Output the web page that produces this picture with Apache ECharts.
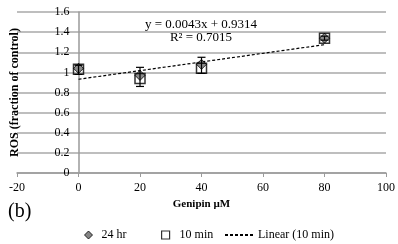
<!DOCTYPE html>
<html><head><meta charset="utf-8">
<script src="https://cdn.jsdelivr.net/npm/echarts@6/dist/echarts.min.js"></script>
<style>html,body{margin:0;padding:0;background:#fff}#c{width:398px;height:244px}</style>
</head><body><div id="c"></div>
<script>
var doses = [0, 20, 40, 80];
var hr24 = [1.04, 0.97, 1.08, 1.34];
var min10 = [1.03, 0.94, 1.04, 1.34];
var errLow = [0.98, 0.86, 0.99, 1.32];
var errHigh = [1.07, 1.05, 1.15, 1.36];
var trendX = [0, 80];
var trendY = [0.9314, 1.2754];
var xTicks = [-20, 0, 20, 40, 60, 80, 100];
var yTicks = [0, 0.2, 0.4, 0.6, 0.8, 1, 1.2, 1.4, 1.6];
var equationText = 'y = 0.0043x + 0.9314';
var r2Text = 'R\u00b2 = 0.7015';

var F = '"Liberation Serif", "DejaVu Serif", serif';
var chart = echarts.init(document.getElementById('c'));
function pairs(xs, ys){ return xs.map(function(x,i){return [x, ys[i]];}); }
function legendBase(extra){
  return Object.assign({bottom: -2, itemWidth: 8, itemHeight: 8, itemGap: 0,
    textStyle:{fontFamily:F, fontSize:12, color:'#000'}}, extra);
}
var gridLeft = 17, gridRight = 12;
var plotW = 398 - gridLeft - gridRight;
var zeroOffset = -plotW * (0 - xTicks[0]) / (xTicks[xTicks.length-1] - xTicks[0]);
chart.setOption({
  animation: false,
  grid: {left: gridLeft, right: gridRight, top: 12, bottom: 71, containLabel: false, outerBoundsMode: 'none'},
  xAxis: {type:'value', min: xTicks[0], max: xTicks[xTicks.length-1], interval: 20,
    name: 'Genipin \u00b5M', nameLocation: 'middle', nameGap: 26,
    nameTextStyle: {fontFamily: F, fontWeight: 'bold', fontSize: 11, color: '#000'},
    axisLine: {onZero: false, lineStyle: {color: '#9a9a9a', width: 1.5}},
    axisTick: {show: true, length: 4, lineStyle: {color: '#9a9a9a'}},
    axisLabel: {fontFamily: F, fontSize: 12, color: '#000', margin: 9},
    splitLine: {show: false}},
  yAxis: {type:'value', min: yTicks[0], max: yTicks[yTicks.length-1], interval: 0.2,
    offset: zeroOffset,
    name: 'ROS (fraction of control)', nameLocation: 'middle', nameGap: 58,
    nameTextStyle: {fontFamily: F, fontWeight: 'bold', fontSize: 12, color: '#000'},
    axisLine: {onZero: false, lineStyle: {color: '#9a9a9a', width: 1.5}},
    axisTick: {show: false},
    axisLabel: {fontFamily: F, fontSize: 12, color: '#000', margin: 9,
      formatter: function(v){ return String(Math.round(v*10)/10); }},
    splitLine: {lineStyle: {color: '#a8a8a8', width: 1.5}}},
  legend: [
    legendBase({left: 79, textStyle:{fontFamily:F, fontSize:12, color:'#000', padding:[0,0,0,4]},
      data: [{name:'24 hr', icon:'diamond', itemStyle:{color:'#666', borderColor:'#000', borderWidth:1}}]}),
    legendBase({left: 156, textStyle:{fontFamily:F, fontSize:12, color:'#000', padding:[0,0,0,5]},
      data: [{name:'10 min', icon:'rect', itemStyle:{color:'#fff', borderColor:'#000', borderWidth:1.2}}]}),
    legendBase({left: 219, itemWidth: 28, data: [{name:'Linear (10 min)', itemStyle:{opacity:0}}]})
  ],
  graphic: [
    {type:'text', left: 8, top: 202, style:{text:'(b)', font:'20px ' + F, fill:'#000'}},
    {type:'text', x: 201, y: 25, style:{text: equationText, font:'13px ' + F, fill:'#000', align:'center', verticalAlign:'middle'}},
    {type:'text', x: 201, y: 38, style:{text: r2Text, font:'13px ' + F, fill:'#000', align:'center', verticalAlign:'middle'}}
  ],
  series: [
    {name:'24 hr', type:'scatter', data: pairs(doses, hr24), symbol:'diamond', symbolSize: 10,
      itemStyle:{color:'#6e6e6e', borderColor:'#000', borderWidth:1}, z: 3},
    {name:'err', type:'custom', data: doses.map(function(d,i){return [d, errLow[i], errHigh[i]];}),
      renderItem: function(params, api){
        var lo = api.coord([api.value(0), api.value(1)]);
        var hi = api.coord([api.value(0), api.value(2)]);
        var w = 4;
        var st = {stroke:'#000', lineWidth:1.2};
        return {type:'group', children:[
          {type:'line', shape:{x1:lo[0], y1:lo[1], x2:hi[0], y2:hi[1]}, style: st},
          {type:'line', shape:{x1:lo[0]-w, y1:lo[1], x2:lo[0]+w, y2:lo[1]}, style: st},
          {type:'line', shape:{x1:hi[0]-w, y1:hi[1], x2:hi[0]+w, y2:hi[1]}, style: st}
        ]};
      }, z: 4, silent: true},
    {name:'10 min', type:'scatter', data: pairs(doses, min10), symbol:'rect', symbolSize: 10,
      itemStyle:{color:'rgba(255,255,255,0)', borderColor:'#000', borderWidth:1.5}, z: 5},
    {name:'Linear (10 min)', type:'line', data: pairs(trendX, trendY), symbol:'none',
      lineStyle:{color:'#000', width:1.2, type:[3,2]}, itemStyle:{color:'#000'}, z: 2}
  ]
});
</script></body></html>
